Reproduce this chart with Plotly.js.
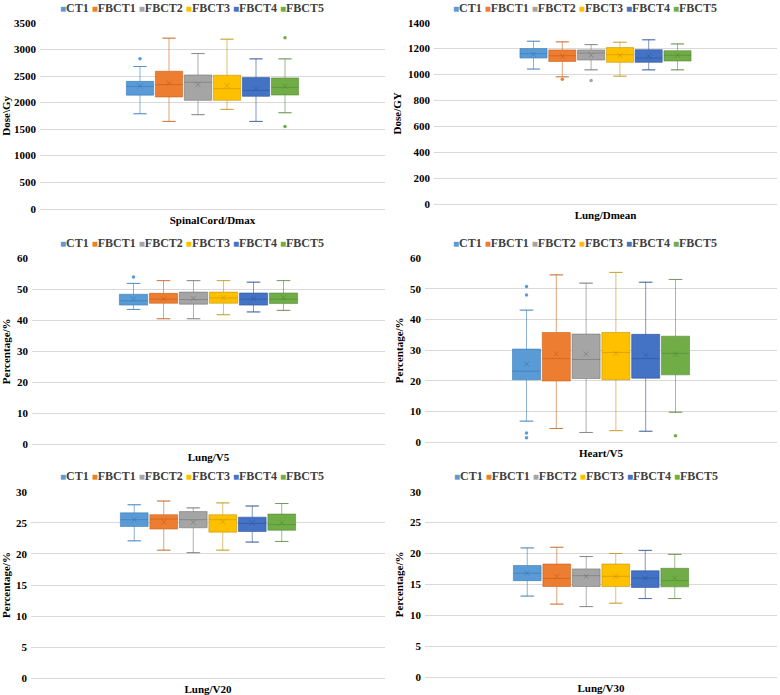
<!DOCTYPE html>
<html>
<head>
<meta charset="utf-8">
<script src="https://cdn.plot.ly/plotly-3.0.1.min.js"></script>
<style>html,body{margin:0;padding:0;background:#fff;}#chart{width:780px;height:695px;}</style>
</head>
<body>
<div id="chart"></div>
<script>
// ---------------- DATA ----------------
const groups = ['CT1', 'FBCT1', 'FBCT2', 'FBCT3', 'FBCT4', 'FBCT5'];
const panelNames = ['SpinalCord/Dmax', 'Lung/Dmean', 'Lung/V5', 'Heart/V5', 'Lung/V20', 'Lung/V30'];
const yTitles = ['Dose\\Gy', 'Dose/GY', 'Percentage/%', 'Percentage/%', 'Percentage/%', 'Percentage/%'];

// SpinalCord/Dmax
const scQ1   = [2140, 2105, 2042, 2042, 2118, 2143];
const scMed  = [2305, 2340, 2383, 2263, 2231, 2288];
const scQ3   = [2400, 2590, 2521, 2515, 2471, 2465];
const scLo   = [1790, 1645, 1772, 1872, 1645, 1809];
const scHi   = [2680, 3214, 2924, 3195, 2824, 2824];
const scMean = [2310, 2365, 2340, 2320, 2263, 2307];
const scOut  = [[2825], [], [], [], [], [3220, 1550]];

// Lung/Dmean
const ldQ1   = [1127, 1101, 1112, 1094, 1094, 1104];
const ldMed  = [1161, 1145, 1166, 1153, 1127, 1148];
const ldQ3   = [1200, 1190, 1190, 1208, 1192, 1184];
const ldLo   = [1042, 982, 1036, 987, 1036, 1036];
const ldHi   = [1257, 1252, 1231, 1249, 1268, 1236];
const ldMean = [1156, 1140, 1148, 1148, 1143, 1148];
const ldOut  = [[], [964], [953], [], [], []];

// Lung/V5
const lv5Q1   = [44.9, 45.5, 45.2, 45.5, 44.9, 45.4];
const lv5Med  = [46.3, 46.8, 46.7, 47.2, 46.8, 46.8];
const lv5Q3   = [48.4, 48.7, 49.1, 49.1, 48.8, 48.8];
const lv5Lo   = [43.5, 40.5, 40.5, 41.8, 42.7, 43.2];
const lv5Hi   = [51.9, 52.8, 52.8, 52.8, 52.3, 52.8];
const lv5Mean = [46.9, 46.9, 47.1, 47.3, 47.0, 47.3];
const lv5Out  = [[54.0], [], [], [], [], []];

// Heart/V5
const hv5Q1   = [20.4, 20.0, 20.8, 20.4, 20.9, 22.0];
const hv5Med  = [23.2, 27.3, 27.0, 29.3, 27.3, 29.0];
const hv5Q3   = [30.4, 35.8, 35.3, 35.8, 35.2, 34.6];
const hv5Lo   = [6.9, 4.5, 3.2, 3.8, 3.6, 9.8];
const hv5Hi   = [43.1, 54.6, 51.9, 55.4, 52.2, 53.1];
const hv5Mean = [25.5, 28.8, 28.8, 29.0, 28.5, 28.8];
const hv5Out  = [[50.8, 48.0, 3.0, 1.5], [], [], [], [], [2.1]];

// Lung/V20
const lv20Q1   = [24.4, 24.0, 24.2, 23.5, 23.6, 23.8];
const lv20Med  = [25.5, 25.6, 25.5, 25.5, 24.9, 24.7];
const lv20Q3   = [26.6, 26.3, 26.8, 26.3, 25.9, 26.4];
const lv20Lo   = [22.1, 20.6, 20.2, 20.6, 21.9, 22.0];
const lv20Hi   = [27.9, 28.5, 27.4, 28.2, 27.7, 28.1];
const lv20Mean = [25.5, 25.1, 25.1, 25.2, 25.0, 25.0];
const lv20Out  = [[], [], [], [], [], []];

// Lung/V30
const lv30Q1   = [15.6, 14.65, 14.65, 14.65, 14.5, 14.6];
const lv30Med  = [16.8, 15.95, 16.4, 16.3, 16.0, 15.6];
const lv30Q3   = [18.05, 18.3, 17.5, 18.3, 17.2, 17.6];
const lv30Lo   = [13.1, 11.8, 11.4, 11.95, 12.7, 12.7];
const lv30Hi   = [20.9, 21.0, 19.5, 20.0, 20.5, 19.85];
const lv30Mean = [16.8, 16.3, 16.3, 16.3, 16.0, 16.0];
const lv30Out  = [[], [], [], [], [], []];

// ---------------- STYLE ----------------
const fillColors = ['#5B9BD5', '#ED7D31', '#A5A5A5', '#FFC000', '#4472C4', '#70AD47'];
const lineColors = ['rgba(46,117,182,0.55)', 'rgba(197,90,17,0.55)', 'rgba(110,110,110,0.55)',
                    'rgba(191,144,0,0.55)', 'rgba(47,85,151,0.6)', 'rgba(84,130,53,0.55)'];

const W = 780, H = 695;
const panelStats = [
  [scQ1, scMed, scQ3, scLo, scHi, scMean, scOut],
  [ldQ1, ldMed, ldQ3, ldLo, ldHi, ldMean, ldOut],
  [lv5Q1, lv5Med, lv5Q3, lv5Lo, lv5Hi, lv5Mean, lv5Out],
  [hv5Q1, hv5Med, hv5Q3, hv5Lo, hv5Hi, hv5Mean, hv5Out],
  [lv20Q1, lv20Med, lv20Q3, lv20Lo, lv20Hi, lv20Mean, lv20Out],
  [lv30Q1, lv30Med, lv30Q3, lv30Lo, lv30Hi, lv30Mean, lv30Out]
];
// plot-area pixel boxes [left, right, top, bottom], y ranges, dticks, legend centre
const frames = [
  {px: [40, 385, 23, 208.7], yr: [0, 3500], dt: 500, leg: [192, 7.5]},
  {px: [434, 777, 22.7, 204], yr: [0, 1400], dt: 200, leg: [585, 7.5]},
  {px: [32, 385, 258.3, 444.3], yr: [0, 60], dt: 10, leg: [192, 242.5]},
  {px: [425, 777, 258.3, 442.3], yr: [0, 60], dt: 10, leg: [585, 242.5]},
  {px: [31, 385, 491.7, 678.3], yr: [0, 30], dt: 5, leg: [192, 475.5]},
  {px: [425, 777, 491.7, 677], yr: [0, 30], dt: 5, leg: [586, 475.5]}
];
const boxSpacing = [29, 28.8, 30, 29.8, 29.5, 29.5];
const xTitleStandoff = [7, 7, 8, 6, 7, 7];

const FONT = 'Liberation Serif, Times New Roman, serif';
const traces = [];
const layout = {
  width: W, height: H,
  margin: {l: 0, r: 0, t: 0, b: 0},
  paper_bgcolor: '#ffffff', plot_bgcolor: '#ffffff',
  showlegend: false,
  boxmode: 'overlay',
  font: {family: FONT, size: 11, color: '#000000', weight: 'bold'},
  annotations: []
};

const legendText = groups.map((g, i) =>
  `<span style="color:${fillColors[i]};font-size:10px">■</span>${g}`).join(' ');

panelStats.forEach((st, p) => {
  const sfx = p === 0 ? '' : String(p + 1);
  const xa = 'x' + sfx, ya = 'y' + sfx;
  const [q1, med, q3, lo, hi, mean, out] = st;
  groups.forEach((g, i) => {
    traces.push({
      type: 'box', x: [g], q1: [q1[i]], median: [med[i]], q3: [q3[i]],
      lowerfence: [lo[i]], upperfence: [hi[i]],
      xaxis: xa, yaxis: ya, name: g, boxpoints: false, width: 0.94,
      fillcolor: fillColors[i], line: {color: lineColors[i], width: 1},
      hoverinfo: 'skip'
    });
    traces.push({
      type: 'scatter', mode: 'markers', x: [g, g], y: [lo[i], hi[i]],
      xaxis: xa, yaxis: ya, hoverinfo: 'skip',
      marker: {symbol: 'line-ew', size: 9, line: {color: lineColors[i], width: 1}}
    });
    traces.push({
      type: 'scatter', mode: 'markers', x: [g], y: [mean[i]],
      xaxis: xa, yaxis: ya, hoverinfo: 'skip',
      marker: {symbol: 'x-thin', size: 5, line: {color: lineColors[i], width: 1}}
    });
    if (out[i].length) {
      traces.push({
        type: 'scatter', mode: 'markers', x: out[i].map(() => g), y: out[i],
        xaxis: xa, yaxis: ya, hoverinfo: 'skip',
        marker: {symbol: 'circle', size: 3.5, color: fillColors[i]}
      });
    }
  });

  const f = frames[p];
  const [l, r, t, b] = f.px;
  const nCat = (r - l) / boxSpacing[p];
  layout['xaxis' + sfx] = {
    domain: [l / W, r / W], anchor: ya,
    type: 'category', categoryorder: 'array', categoryarray: groups,
    range: [2.5 - nCat / 2, 2.5 + nCat / 2],
    showticklabels: false, ticks: '', showgrid: false, zeroline: false,
    showline: true, linecolor: '#D9D9D9', linewidth: 1,
    title: {text: panelNames[p], standoff: xTitleStandoff[p], font: {family: FONT, size: 11, weight: 'bold'}},
    fixedrange: true
  };
  layout['yaxis' + sfx] = {
    domain: [1 - b / H, 1 - t / H], anchor: xa,
    range: f.yr, dtick: f.dt, tick0: 0,
    showgrid: true, gridcolor: '#D9D9D9', gridwidth: 1,
    zeroline: false, showline: false, ticks: '',
    ticklabelstandoff: 3,
    tickfont: {family: FONT, size: 11, weight: 'bold'},
    title: {text: yTitles[p], standoff: 4, font: {family: FONT, size: 11, weight: 'bold'}},
    fixedrange: true
  };
  layout.annotations.push({
    xref: 'paper', yref: 'paper', x: f.leg[0] / W, y: 1 - f.leg[1] / H,
    xanchor: 'center', yanchor: 'middle', showarrow: false,
    text: legendText, font: {family: FONT, size: 12, color: '#404040', weight: 'bold'}
  });
});

Plotly.newPlot('chart', traces, layout, {displayModeBar: false, staticPlot: true});
</script>
</body>
</html>
